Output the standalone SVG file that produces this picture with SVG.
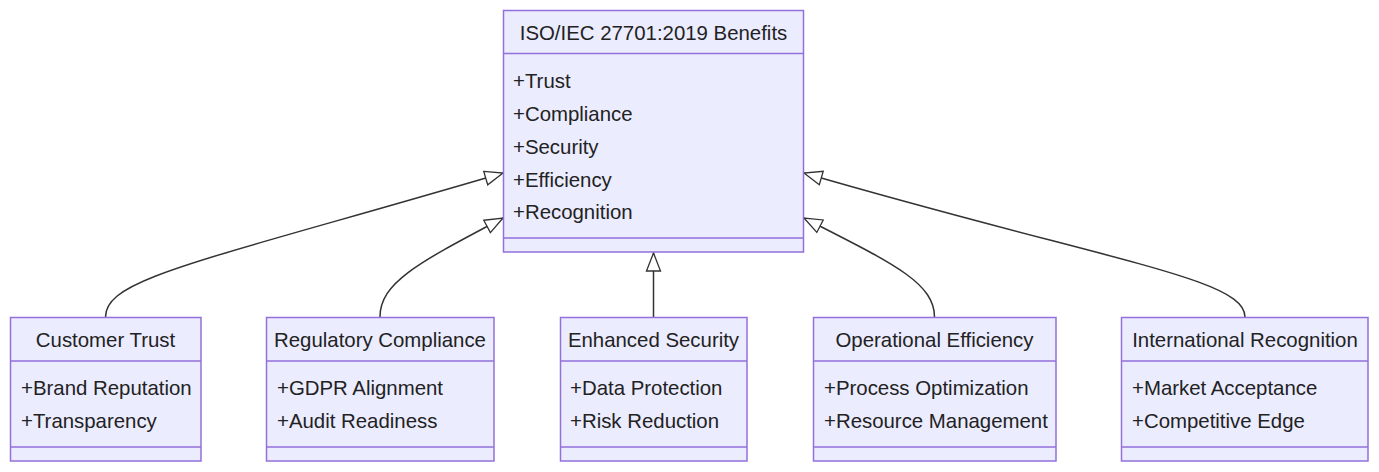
<svg xmlns="http://www.w3.org/2000/svg" width="1379" height="472" viewBox="0 0 1379 472">
<style>
.box{fill:#ECECFF;stroke:#9370DB;stroke-width:1.5}
.div{stroke:#9370DB;stroke-width:1.5}
text{font-family:"Liberation Sans",Arial,sans-serif;font-size:20.4px;fill:#222}
.c{text-anchor:middle}
.edge{fill:none;stroke:#333;stroke-width:1.5}
</style>
<defs>
<marker id="ext" markerUnits="userSpaceOnUse" markerWidth="22" markerHeight="18" refX="19" refY="8" orient="auto" viewBox="0 0 22 16">
<path d="M1,1 L19,8 L1,15 Z" fill="#fff" stroke="#333" stroke-width="1.3"/>
</marker>
</defs>
<rect width="1379" height="472" fill="#fff"/>
<g id="connectors">
<path class="edge" d="M105.5,317 C105.5,278 200,262 503,173" marker-end="url(#ext)"/>
<path class="edge" d="M380,317 C380,282 420,262 503,218" marker-end="url(#ext)"/>
<path class="edge" d="M653.5,317 L653.5,253" marker-end="url(#ext)"/>
<path class="edge" d="M934.5,317 C934.5,282 890,262 804,218" marker-end="url(#ext)"/>
<path class="edge" d="M1245,317 C1245,278 1110,262 804,173" marker-end="url(#ext)"/>
</g>
<g id="benefits">
<rect class="box" x="503.5" y="10.5" width="300" height="241.5"/>
<line class="div" x1="503.5" y1="53.5" x2="803.5" y2="53.5"/>
<line class="div" x1="503.5" y1="238" x2="803.5" y2="238"/>
<text class="c" x="653.5" y="40">ISO/IEC 27701:2019 Benefits</text>
<text x="513" y="88">+Trust</text>
<text x="513" y="121">+Compliance</text>
<text x="513" y="154">+Security</text>
<text x="513" y="187">+Efficiency</text>
<text x="513" y="219">+Recognition</text>
</g>
<g id="customer-trust">
<rect class="box" x="10.5" y="317.5" width="190.5" height="143.5"/>
<line class="div" x1="10.5" y1="361" x2="201" y2="361"/>
<line class="div" x1="10.5" y1="447" x2="201" y2="447"/>
<text class="c" x="105.5" y="347">Customer Trust</text>
<text x="21" y="395">+Brand Reputation</text>
<text x="21" y="428">+Transparency</text>
</g>
<g id="regulatory-compliance">
<rect class="box" x="266.5" y="317.5" width="227.5" height="143.5"/>
<line class="div" x1="266.5" y1="361" x2="494" y2="361"/>
<line class="div" x1="266.5" y1="447" x2="494" y2="447"/>
<text class="c" x="380" y="347">Regulatory Compliance</text>
<text x="277" y="395">+GDPR Alignment</text>
<text x="277" y="428">+Audit Readiness</text>
</g>
<g id="enhanced-security">
<rect class="box" x="560.5" y="317.5" width="186.5" height="143.5"/>
<line class="div" x1="560.5" y1="361" x2="747" y2="361"/>
<line class="div" x1="560.5" y1="447" x2="747" y2="447"/>
<text class="c" x="653.5" y="347">Enhanced Security</text>
<text x="570" y="395">+Data Protection</text>
<text x="570" y="428">+Risk Reduction</text>
</g>
<g id="operational-efficiency">
<rect class="box" x="813.5" y="317.5" width="242.5" height="143.5"/>
<line class="div" x1="813.5" y1="361" x2="1056" y2="361"/>
<line class="div" x1="813.5" y1="447" x2="1056" y2="447"/>
<text class="c" x="934.5" y="347">Operational Efficiency</text>
<text x="824" y="395">+Process Optimization</text>
<text x="824" y="428">+Resource Management</text>
</g>
<g id="international-recognition">
<rect class="box" x="1121.5" y="317.5" width="246.5" height="143.5"/>
<line class="div" x1="1121.5" y1="361" x2="1368" y2="361"/>
<line class="div" x1="1121.5" y1="447" x2="1368" y2="447"/>
<text class="c" x="1245" y="347">International Recognition</text>
<text x="1132" y="395">+Market Acceptance</text>
<text x="1132" y="428">+Competitive Edge</text>
</g>
</svg>
